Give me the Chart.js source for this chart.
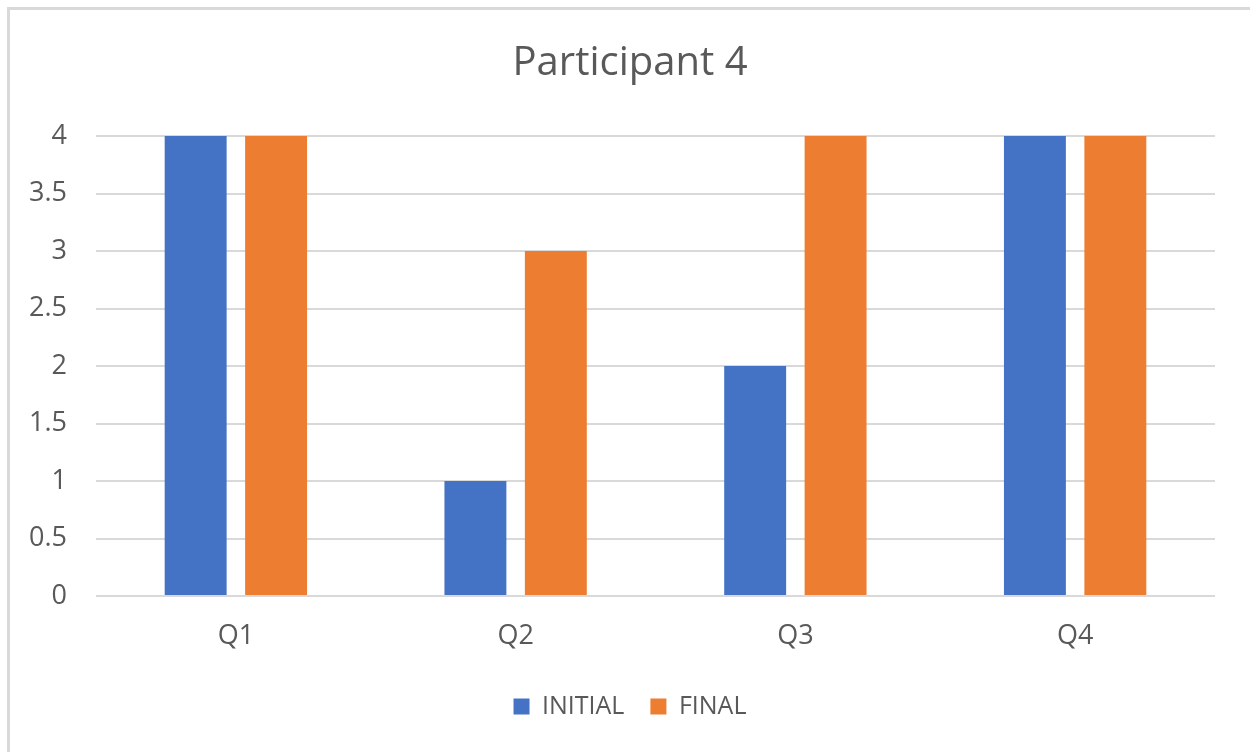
<!DOCTYPE html>
<html>
<head>
<meta charset="utf-8">
<script src="https://cdn.jsdelivr.net/npm/chart.js@4.4.1/dist/chart.umd.min.js"></script>
<style>
  html, body { margin: 0; padding: 0; background: #ffffff; }
  #wrap { position: relative; width: 1250px; height: 752px; overflow: hidden; }
  #frame {
    position: absolute; left: 7px; top: 7px; width: 1400px; height: 900px;
    border-top: 3px solid #d9d9d9; border-left: 3px solid #d9d9d9;
    box-sizing: border-box; pointer-events: none;
  }
  canvas { position: absolute; left: 0; top: 0; }
</style>
</head>
<body>
<div id="wrap">
  <canvas id="chart" width="1250" height="752"></canvas>
  <div id="frame"></div>
</div>
<script>
const categories = ['Q1', 'Q2', 'Q3', 'Q4'];
const initialScores = [4, 1, 2, 4];
const finalScores = [4, 3, 4, 4];
const yTicks = [0, 0.5, 1, 1.5, 2, 2.5, 3, 3.5, 4];

const textColor = '#595959';
const gridColor = '#d9d9d9';
const fontFamily = "'Open Sans', 'Liberation Sans', sans-serif";

new Chart(document.getElementById('chart'), {
  type: 'bar',
  data: {
    labels: categories,
    datasets: [
      { label: 'INITIAL', data: initialScores, backgroundColor: '#4472c4' },
      { label: 'FINAL', data: finalScores, backgroundColor: '#ed7d31' }
    ]
  },
  options: {
    responsive: false,
    animation: false,
    categoryPercentage: 0.575,
    barPercentage: 0.77,
    layout: { padding: { left: 10, right: 0, top: 0, bottom: 23 } },
    plugins: {
      title: {
        display: true,
        text: 'Participant 4',
        color: textColor,
        font: { family: fontFamily, size: 40, weight: 'normal' },
        padding: { top: 40, bottom: 48 }
      },
      legend: {
        display: true,
        position: 'bottom',
        labels: {
          color: textColor,
          font: { family: fontFamily, size: 25 },
          boxWidth: 16,
          boxHeight: 16,
          padding: 26
        }
      },
      tooltip: { enabled: false }
    },
    scales: {
      x: {
        afterFit: (axis) => { axis.height = 72; },
        grid: { display: false },
        border: { display: false },
        ticks: { color: textColor, font: { family: fontFamily, size: 27 }, padding: 16 }
      },
      y: {
        min: 0,
        max: 4,
        afterBuildTicks: (axis) => { axis.ticks = yTicks.map(v => ({ value: v })); },
        afterFit: (axis) => { axis.width = 86; },
        grid: { color: gridColor, lineWidth: 2, drawTicks: false },
        border: { display: false },
        ticks: {
          color: textColor,
          font: { family: fontFamily, size: 27 },
          padding: 29,
          callback: (v) => String(v)
        }
      },
      // empty margin on the right of the plot
      yRight: {
        position: 'right',
        min: 0,
        max: 4,
        afterFit: (axis) => { axis.width = 35; },
        grid: { display: false },
        border: { display: false },
        ticks: { display: false }
      }
    }
  }
});
</script>
</body>
</html>
